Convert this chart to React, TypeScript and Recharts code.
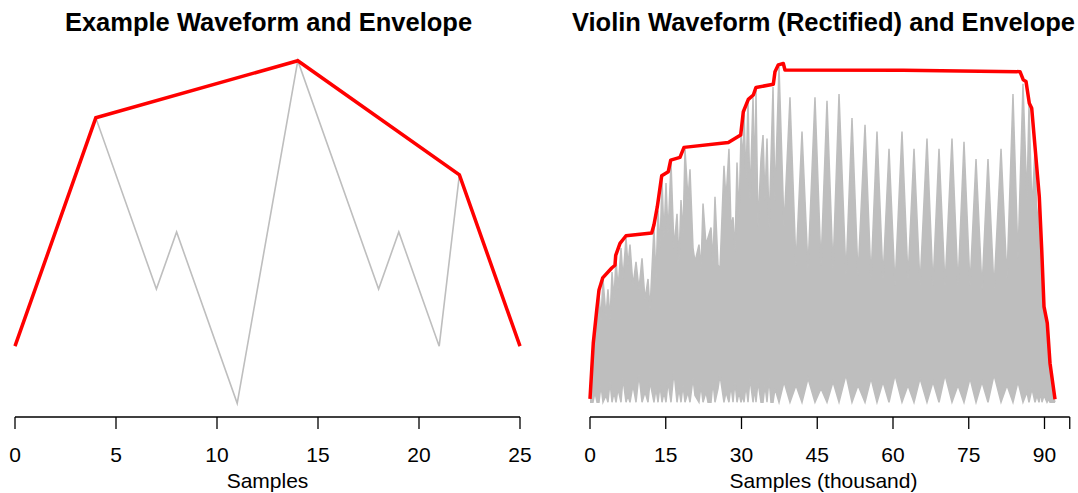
import React from 'react';
import { LineChart, Line, XAxis, YAxis, ComposedChart, Area } from 'recharts';

const FONT = '"Liberation Sans", Arial, Helvetica, sans-serif';

// Left panel: a short toy waveform and its peak envelope
const exampleSamples = [0, 4, 7, 8, 11, 14, 18, 19, 21, 22, 25];
const exampleLevels = [1, 5, 2, 3, 0, 6, 2, 3, 1, 4, 1];
const exampleEnvSamples = [0, 4, 14, 22, 25];
const exampleEnvLevels = [1, 5, 6, 4, 1];
const exampleTicks = [0, 5, 10, 15, 20, 25];

// Right panel: rectified violin note (sample index in thousands, amplitude in % of peak)
const violinK = [
  0, 0.2, 0.59, 0.99, 1.39, 1.78, 2.18, 2.57, 3.17, 3.56,
  3.96, 4.36, 4.75, 5.15, 5.54, 6.14, 6.53, 7.13, 7.52, 7.92,
  8.51, 9.11, 9.7, 10.3, 10.89, 11.49, 11.88, 12.67, 13.07, 13.47,
  13.86, 14.26, 14.65, 15.05, 15.45, 16.04, 16.63, 17.23, 17.62, 18.02,
  18.42, 18.81, 19.41, 19.8, 20.4, 20.79, 21.58, 21.98, 22.38, 22.97,
  23.37, 23.96, 24.36, 24.75, 25.35, 25.74, 26.53, 26.93, 27.52, 27.92,
  28.32, 28.71, 29.11, 29.5, 29.9, 30.3, 30.5, 30.89, 31.29, 31.68,
  32.28, 32.67, 32.87, 33.27, 33.86, 34.26, 34.65, 35.05, 35.45, 35.84,
  36.24, 36.63, 37.43, 38.42, 39.6, 40.79, 41.98, 43.17, 44.55, 45.74,
  46.93, 48.12, 49.31, 50.69, 51.88, 53.07, 54.46, 55.64, 56.83, 58.02,
  59.21, 60.4, 61.78, 62.97, 64.16, 65.35, 66.73, 67.92, 69.11, 70.3,
  71.68, 72.87, 74.06, 75.25, 76.44, 77.62, 78.81, 80.0, 81.39, 82.57,
  83.76, 84.75, 85.74, 86.53, 86.93, 87.52, 88.12, 88.51, 88.91, 89.31,
  89.5, 89.9, 90.5, 90.89, 91.09, 91.49, 91.88, 92.08,
];
const violinTop = [
  1, 8, 17, 21, 29, 32, 24, 36, 25, 33,
  24, 38, 30, 42, 33, 45, 36, 48, 40, 46,
  34, 41, 33, 42, 30, 36, 27, 51, 36, 56,
  45, 65, 48, 64, 49, 70, 45, 55, 41, 59,
  49, 74, 59, 68, 45, 41, 46, 39, 58, 46,
  48, 51, 41, 60, 40, 39, 69, 59, 74, 51,
  54, 44, 70, 54, 78, 71, 84, 65, 88, 59,
  89, 65, 91, 51, 71, 78, 59, 77, 51, 71,
  92, 59, 98, 51, 89, 40, 79, 39, 89, 40,
  88, 39, 90, 37, 83, 37, 81, 36, 79, 36,
  74, 34, 79, 36, 74, 34, 77, 34, 74, 34,
  77, 34, 76, 34, 71, 33, 71, 33, 74, 36,
  90, 42, 93, 59, 87, 56, 74, 51, 59, 36,
  43, 27, 23, 9, 11, 4, 1, 0,
];
const violinBase = [
  0, 0, 0, 3, 0, 0, 5, 0, 2, 0,
  6, 0, 3, 0, 4, 0, 7, 0, 2, 0,
  5, 0, 8, 0, 3, 0, 6, 0, 4, 0,
  5, 0, 3, 0, 6, 0, 9, 0, 4, 0,
  5, 0, 3, 0, 7, 2, 0, 5, 0, 3,
  0, 0, 6, 0, 4, 8, 0, 3, 0, 5,
  0, 6, 0, 3, 0, 2, 0, 5, 0, 7,
  0, 4, 0, 6, 0, 0, 5, 0, 7, 0,
  0, 4, 0, 6, 0, 5, 0, 7, 0, 4,
  0, 6, 0, 8, 0, 5, 0, 7, 0, 6,
  0, 8, 0, 5, 0, 7, 0, 6, 0, 8,
  0, 5, 0, 7, 0, 6, 0, 8, 0, 5,
  0, 6, 0, 3, 0, 4, 0, 2, 0, 3,
  0, 2, 0, 1, 0, 0, 0, 0,
];
const violinEnvK = [
  0, 0.34, 0.65, 1.33, 1.78, 2.51, 4.3, 4.95, 5.09, 5.94,
  7.13, 12.22, 12.67, 13.33, 14.2, 15.5, 15.98, 17.82, 18.61, 27.39,
  29.84, 30.36, 31.35, 32.34, 32.87, 36.3, 36.63, 37.29, 38.28, 38.61,
  62.0, 85.15, 85.8, 86.34, 86.99, 87.47, 88.12, 88.97, 89.45, 89.9,
  90.55, 91.09, 92.08,
];
const violinEnvA = [
  1, 9.5, 17.3, 26.9, 32.8, 36.3, 39.2, 40.0, 42.9, 46.4,
  48.6, 49.4, 51.8, 57.1, 66.1, 67.3, 70.7, 71.5, 74.4, 75.8,
  78.0, 84.8, 88.4, 89.7, 91.9, 92.8, 96.5, 98.5, 98.9, 97.0,
  96.9, 96.5, 94.1, 93.6, 87.3, 85.8, 74.6, 60.0, 44.5, 27.9,
  23.1, 11.4, 0.9,
];
const violinTicks = [0, 15, 30, 45, 60, 75, 90, 95];

const exampleWave = exampleSamples.map((x, i) => ({ x, y: exampleLevels[i] }));
const exampleEnv = exampleEnvSamples.map((x, i) => ({ x, y: exampleEnvLevels[i] }));
const violinWave = violinK.map((k, i) => ({ k, top: violinTop[i], base: violinBase[i] }));
const violinEnv = violinEnvK.map((k, i) => ({ k, a: violinEnvA[i] }));

const axisLineStyle = { stroke: '#000', strokeWidth: 1.3 };
const tickStyle = { fontSize: 21, fill: '#000', fontFamily: FONT };

export default function App() {
  return (
    <div
      style={{
        position: 'absolute',
        left: 0,
        top: 0,
        width: 1078,
        height: 493,
        background: '#fff',
        overflow: 'hidden',
      }}
    >
      <div style={{ position: 'absolute', left: 0, top: 0 }}>
        <LineChart width={540} height={493} margin={{ top: 47, right: 20, bottom: 36, left: 15 }}>
          <XAxis
            type="number"
            dataKey="x"
            domain={[0, 25]}
            ticks={exampleTicks}
            interval={0}
            height={40}
            tickSize={12}
            tickMargin={18}
            axisLine={axisLineStyle}
            tickLine={axisLineStyle}
            tick={tickStyle}
          />
          <YAxis hide type="number" domain={[-0.24, 6.24]} />
          <Line
            data={exampleWave}
            dataKey="y"
            type="linear"
            stroke="#bebebe"
            strokeWidth={1.6}
            dot={false}
            activeDot={false}
            isAnimationActive={false}
          />
          <Line
            data={exampleEnv}
            dataKey="y"
            type="linear"
            stroke="#ff0000"
            strokeWidth={3.5}
            dot={false}
            activeDot={false}
            isAnimationActive={false}
          />
        </LineChart>
      </div>
      <div style={{ position: 'absolute', left: 540, top: 0 }}>
        <ComposedChart
          width={538}
          height={493}
          data={violinWave}
          margin={{ top: 47, right: 8.25, bottom: 36, left: 50 }}
        >
          <XAxis
            type="number"
            dataKey="k"
            domain={[0, 95]}
            ticks={violinTicks}
            interval={0}
            tickFormatter={(v: number) => (v === 95 ? '' : String(v))}
            height={40}
            tickSize={12}
            tickMargin={18}
            axisLine={axisLineStyle}
            tickLine={axisLineStyle}
            tick={tickStyle}
          />
          <YAxis hide type="number" domain={[-4.3, 103.7]} />
          <Area
            dataKey={(d: any) => [d.base, d.top]}
            type="linear"
            stroke="#bebebe"
            strokeWidth={1.5}
            fill="#bebebe"
            fillOpacity={1}
            dot={false}
            activeDot={false}
            isAnimationActive={false}
          />
          <Line
            data={violinEnv}
            dataKey="a"
            type="linear"
            stroke="#ff0000"
            strokeWidth={3.5}
            strokeLinejoin="round"
            dot={false}
            activeDot={false}
            isAnimationActive={false}
          />
        </ComposedChart>
      </div>
      <svg
        width={1078}
        height={493}
        style={{ position: 'absolute', left: 0, top: 0, pointerEvents: 'none' }}
      >
        <g fontFamily={FONT} fill="#000" textAnchor="middle">
          <text x={268.5} y={31} fontSize={25.5} fontWeight="bold">
            Example Waveform and Envelope
          </text>
          <text x={823.5} y={31} fontSize={25.5} fontWeight="bold">
            Violin Waveform (Rectified) and Envelope
          </text>
          <text x={267.5} y={488} fontSize={21}>
            Samples
          </text>
          <text x={823.5} y={488} fontSize={21}>
            Samples (thousand)
          </text>
        </g>
      </svg>
    </div>
  );
}
